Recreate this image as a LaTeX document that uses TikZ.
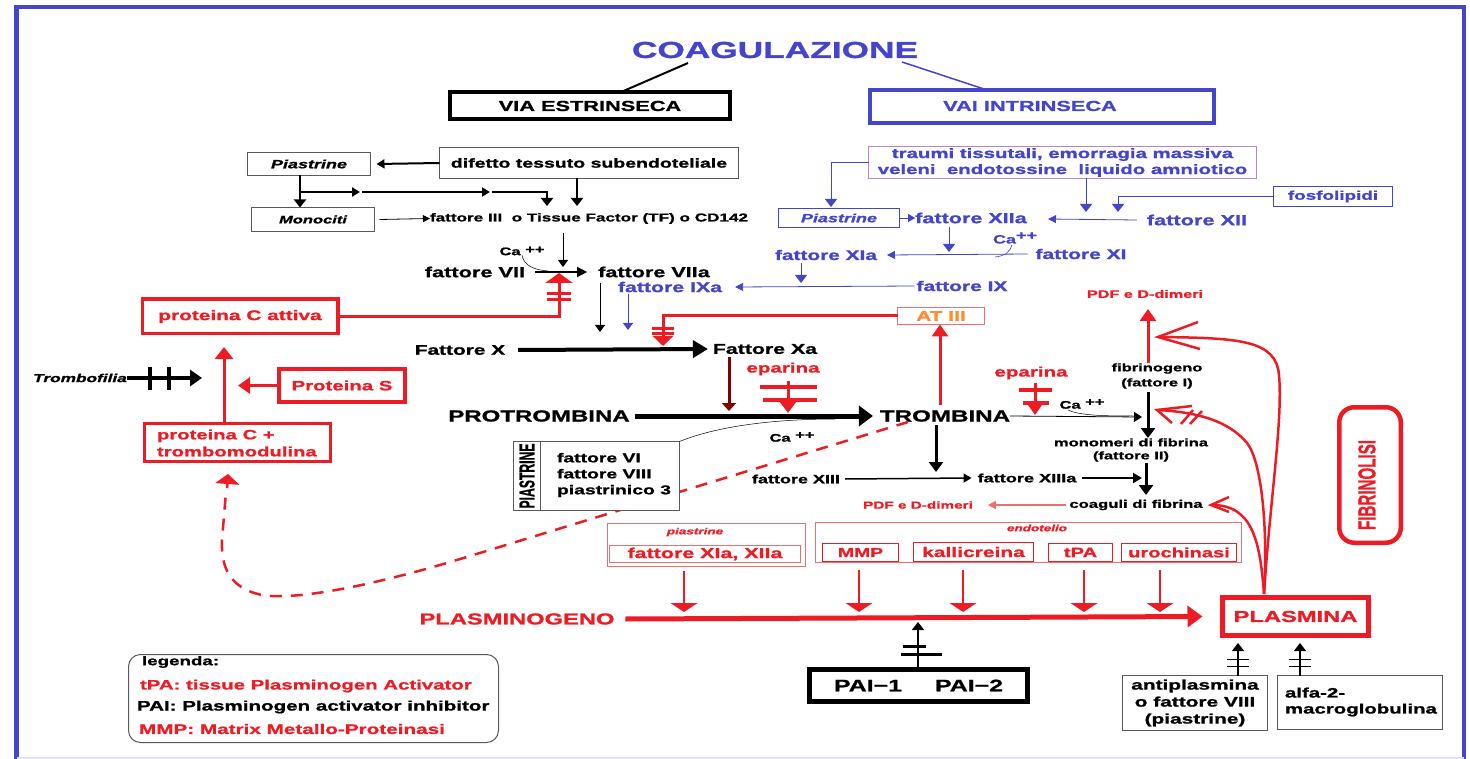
\documentclass[tikz,border=0pt]{standalone}
\usepackage{fontspec}
\setmainfont{Liberation Sans}[FakeStretch=1.5,BoldFeatures={FakeBold=1.2},BoldItalicFeatures={FakeBold=1.2}]
\usepackage{graphicx}
\usetikzlibrary{arrows.meta}
\definecolor{cblue}{RGB}{68,68,204}
\definecolor{cred}{RGB}{237,28,36}
\definecolor{clred}{RGB}{240,110,110}
\definecolor{corange}{RGB}{255,140,50}
\definecolor{cpurple}{RGB}{190,130,200}
\definecolor{cmaroon}{RGB}{130,0,0}
\definecolor{cgray}{RGB}{90,90,90}
\definecolor{clav}{RGB}{225,225,250}
\begin{document}
\begin{tikzpicture}[x=1pt,y=-1pt,
  every node/.style={inner sep=0pt,outer sep=0pt},
  fs/.style 2 args={font=\bfseries\fontsize{#1}{#2}\selectfont},
  fsi/.style 2 args={font=\bfseries\itshape\fontsize{#1}{#2}\selectfont},
  scr/.style={text=cred,font=\bfseries\itshape\fontsize{9}{9}\selectfont},
  tS/.style={-{Triangle[length=7pt,width=10pt]}},
  tM/.style={-{Triangle[length=8pt,width=12pt]}},
  tB/.style={-{Triangle[length=10pt,width=14pt]}},
  tR/.style={-{Triangle[length=12pt,width=16pt]}},
  tW/.style={-{Triangle[length=9pt,width=27pt]}},
  bar/.style={line width=3pt},
]
\useasboundingbox (0,0) rectangle (1470,759);
% frame
\draw[cblue,line width=4.5pt] (16.5,759) -- (16.5,7) -- (1464,7) -- (1464,759);
\draw[clav,line width=2pt] (16.5,757.5) -- (1464,757.5);

% title
\node[text=cblue,fs={21}{21}] (coag) at (775,50) {\scalebox{1.12}[1.1]{COAGULAZIONE}};
\node[draw,line width=4pt,minimum width=280pt,minimum height=27pt,fs={14.5}{15}] (estr) at (590,106) {VIA ESTRINSECA};
\node[draw=cblue,line width=4pt,minimum width=344pt,minimum height=33pt] (intr) at (1042,106.5) {};
\node[text=cblue,fs={14.5}{15}] (intrT) at (1030,106) {VAI INTRINSECA};
\coordinate (coagL) at (688,63);
\coordinate (coagR) at (902,62);
\draw[line width=2pt] (coagL) -- (estr.north -| 620,0);
\draw[cblue,line width=1.5pt] (coagR) -- (intr.north -| 987,0);

% extrinsic
\node[draw=cgray,line width=1pt,minimum width=123pt,minimum height=23pt,fsi={12}{12}] (piaE) at (309,164) {Piastrine};
\node[draw=cgray,line width=1pt,minimum width=299pt,minimum height=31pt,fs={13}{13}] (dif) at (589,163) {difetto tessuto subendoteliale};
\draw[line width=2pt,-{Triangle[length=8pt,width=9pt]}] (dif.west) -- ([xshift=6pt]piaE.east);
\node[draw=cgray,line width=1pt,minimum width=123pt,minimum height=24pt,fsi={11}{11}] (mono) at (313,219.5) {Monociti};
\node[fs={11.4}{12},anchor=west] (tf) at (430,218.5) {fattore III\ \ o Tissue Factor (TF) o CD142};
\draw[line width=2.5pt,tM] (piaE.south -| 300,0) -- (mono.north -| 300,0);
\coordinate (j1) at (300,192);
\coordinate (j2) at (361,192);
\coordinate (j3) at (491,192);
\coordinate (j4) at (547,192);
\coordinate (j5) at (547,206);
\draw[line width=2pt,-{Triangle[length=8pt,width=9pt]}] (j1) -- ([xshift=-1pt]j2);
\draw[line width=2pt,-{Triangle[length=8pt,width=9pt]}] ([xshift=1pt]j2) -- ([xshift=-1pt]j3);
\draw[line width=2pt,tM] ([xshift=1pt]j3) -- (j4) -- (j5);
\draw[line width=2.5pt,tM] (dif.south -| 577,0) -- (577,206);
\draw[line width=0.8pt,-{Triangle[length=7pt,width=7pt]}] ([xshift=5pt]mono.east) -- (tf.west);

\node[fs={11}{11}] (ca1) at (522,251) {Ca \raisebox{2pt}{++}};
\coordinate (tfd) at (563,267);
\draw[line width=1pt,tS] (563,233) -- (tfd);
\node[fs={14.5}{15}] (f7) at (475,272) {fattore VII};
\node[fs={14.4}{15}] (f7a) at (654,272) {fattore VIIa};
\draw[line width=0.5pt] (ca1.south) .. controls (524,266) and (535,270) .. (548,271);
\draw[line width=1.2pt,-{Triangle[length=10pt,width=10pt]}] ([xshift=10pt]f7.east) -- ([xshift=-11pt]f7a.west);

\node[draw=cred,line width=3.5pt,minimum width=195.5pt,minimum height=34.5pt,text=cred,fs={13.9}{14}] (pCa) at (240,316.5) {proteina C attiva};
\coordinate (inh1) at (559,273);
\draw[cred,line width=3pt,-{Triangle[length=10pt,width=27pt]}] (pCa.east) -- (inh1 |- pCa.east) -- (inh1);
\draw[cred,bar] (547,294) -- (571,294) (547,300) -- (571,300);

\draw[line width=1pt,tS] (600,283) -- (600,332);
\draw[cblue,line width=1pt,tS] (628,294) -- (628,330);
\node[text=cblue,fs={14.2}{15}] (f9a) at (670,287) {fattore IXa};
\node[text=cblue,fs={14}{15}] (f9) at (962,286) {fattore IX};
\draw[cblue,line width=0.8pt,-{Triangle[length=8pt,width=8pt]}] ([xshift=-2pt]f9.west) -- ([xshift=13pt]f9a.east);

\node[draw=clred,line width=1.2pt,minimum width=87pt,minimum height=17pt,text=corange,fs={13.9}{14}] (at3) at (941,316) {AT III};
\coordinate (inh2) at (663,346);
\draw[cred,line width=3pt,-{Triangle[length=10pt,width=20pt]}] (at3.west) -- (inh2 |- at3.west) -- (inh2);
\draw[cred,bar] (652,329) -- (674,329) (652,334) -- (674,334);

\node[fs={13.9}{14}] (fX) at (460,350) {Fattore X};
\node[fs={14.2}{15}] (fXa) at (765,349) {Fattore Xa};
\draw[line width=4pt,-{Triangle[length=15pt,width=17pt]}] ([xshift=13pt]fX.east) -- ([xshift=-5pt]fXa.west);
\draw[cmaroon,line width=3pt,-{Triangle[length=8pt,width=14pt]}] (729,357) -- (729,411);

\node[text=cred,fs={13.7}{14}] (ep1) at (783,369) {eparina};
\draw[cred,line width=3pt,-{Triangle[length=14pt,width=20pt]}] (788,381) -- (788,413);
\draw[cred,line width=3.5pt] (760,387) -- (817,387) (763,400) -- (817,400);

\node[fs={16}{16}] (pt) at (539,416) {PROTROMBINA};
\node[fs={16.1}{16}] (tr) at (945,416) {TROMBINA};
\draw[line width=5pt,-{Triangle[length=14pt,width=20pt]}] ([xshift=5pt]pt.east) -- ([xshift=-7pt]tr.west);

% red dashed from trombina to proteina C + trombomodulina
\coordinate (dS) at (908,422);
\draw[cred,line width=2.5pt,dash pattern=on 12pt off 9pt] (dS) -- (470,556) .. controls (360,590) and (290,600) .. (262,595) .. controls (228,588) and (221,565) .. (222,540) -- (226,492);
\draw[cred,line width=2.5pt,-{Triangle[length=10pt,width=24pt]}] (227,488) -- (228,474);

% piastrine box
\node[draw=cgray,line width=1pt,fill=white,minimum width=166pt,minimum height=69pt] (pias) at (596.5,476) {};
\draw[cgray,line width=1pt] ([xshift=27pt]pias.north west) -- ([xshift=27pt]pias.south west);
\node[rotate=90,fs={12}{12}] (piasV) at (527,476) {\resizebox{65pt}{15pt}{PIASTRINE}};
\node[fs={12.9}{16},anchor=west,align=left] (piasT) at (557,475) {fattore VI\\fattore VIII\\piastrinico 3};
\draw[line width=0.5pt] (pias.north east) .. controls (720,425) and (780,419) .. (835,419);
\node[fs={11}{11}] (ca2) at (792,437) {Ca \raisebox{3pt}{++}};

\node[draw=cred,line width=3pt,minimum width=186pt,minimum height=38pt] (pCtm) at (237.5,442.5) {};
\node[text=cred,fs={13.5}{17},align=left,anchor=west] (pCtmT) at (157,443) {proteina C +\\trombomodulina};
\draw[cred,line width=3pt,-{Triangle[length=12pt,width=18pt]}] (pCtm.north -| 224,0) -- (224,347);
\node[draw=cred,line width=4pt,minimum width=126pt,minimum height=33pt,text=cred,fs={13.6}{14}] (pS) at (342,385.5) {Proteina S};
\draw[cred,line width=3pt,tR] (pS.west) -- (238,385.5);
\node[fsi={11.5}{12}] (tfil) at (80,378) {Trombofilia};
\draw[line width=3.5pt,tR] (tfil.east) -- (202,378);
\draw[line width=4pt] (150,367) -- (150,390) (169,367) -- (169,390);

% intrinsic
\node[draw=cpurple,line width=1pt,minimum width=388pt,minimum height=32pt,text=cblue,fs={13.6}{16},align=center] (trau) at (1062.5,162.5) {traumi tissutali, emorragia massiva\\veleni\ \ endotossine\ \ liquido amniotico};
\coordinate (piaIn) at (831,207);
\draw[cblue,line width=1pt,tM] (trau.west) -- (piaIn |- trau.west) -- (piaIn);
\node[draw=cblue,line width=1pt,minimum width=121pt,minimum height=19pt,text=cblue,fsi={12}{12}] (piaI) at (839,218) {Piastrine};
\node[text=cblue,fs={14.4}{15}] (f12a) at (971,218) {fattore XIIa};
\draw[cblue,line width=0.8pt,-{Triangle[length=7pt,width=8pt]}] (piaI.east) -- (f12a.west);
\draw[cblue,line width=1pt,tM] (trau.south -| 1086,0) -- (1086,212);
\node[draw=cblue,line width=1pt,minimum width=119pt,minimum height=20pt,text=cblue,fs={12.6}{13}] (fosf) at (1333,196.5) {fosfolipidi};
\draw[cblue,line width=1pt,tM] (fosf.west) -- (1118,196.5) -- (1118,212);
\node[text=cblue,fs={14.5}{15}] (f12) at (1197,220) {fattore XII};
\draw[cblue,line width=0.8pt,-{Triangle[length=8pt,width=8pt]}] ([xshift=-10pt]f12.west) -- (1048,219);
\draw[cblue,line width=1pt,tM] (949,227) -- (949,252);
\node[text=cblue,fs={12}{12}] (ca3) at (1015,238) {Ca\raisebox{4pt}{++}};
\draw[cblue,line width=0.6pt] (1012,245) .. controls (1010,252) and (1005,256) .. (995,257);
\node[text=cblue,fs={14}{15}] (f11) at (1081,254) {fattore XI};
\node[text=cblue,fs={13.9}{15}] (f11a) at (826,255) {fattore XIa};
\draw[cblue,line width=0.8pt,-{Triangle[length=8pt,width=8pt]}] ([xshift=-8pt]f11.west) -- ([xshift=10pt]f11a.east);
\draw[cblue,line width=1pt,tM] (801,263) -- (801,283);

% right side
\node[text=cred,fs={10.8}{11}] (pdf1) at (1145,294) {PDF e D-dimeri};
\node[fs={11}{15},align=center] (fib) at (1157,376) {fibrinogeno\\(fattore I)};
\draw[cred,line width=3pt,tR] (1148,363) -- (1148,309);
\draw[line width=3pt,tB] (1148,392) -- (1148,438);
\node[text=cred,fs={13.7}{14}] (ep2) at (1031,373) {eparina};
\draw[cred,line width=3pt,tR] (1035,383) -- (1035,415);
\draw[cred,line width=3.5pt] (1019,390) -- (1052,390) (1023,403) -- (1049,403);
\draw[line width=0.8pt,-{Triangle[length=8pt,width=10pt]}] (tr.east) -- (1142,417);
\node[fs={11}{11}] (ca4) at (1082,404) {Ca \raisebox{3pt}{++}};
\draw[line width=0.5pt] (1068,410) .. controls (1080,416) and (1110,416) .. (1135,416);
\node[fs={11}{13},align=center] (mono2) at (1131,450) {monomeri di fibrina\\(fattore II)};
\draw[line width=3pt,tB] (1146,463) -- (1146,495);
\node[fs={12}{12}] (f13) at (796,479) {fattore XIII};
\node[fs={12.1}{12}] (f13a) at (1027,478) {fattore XIIIa};
\draw[line width=1.5pt,-{Triangle[length=8pt,width=9pt]}] ([xshift=5pt]f13.east) -- ([xshift=-6pt]f13a.west);
\draw[line width=2pt,-{Triangle[length=9pt,width=10pt]}] ([xshift=6pt]f13a.east) -- (1142,478);
\draw[line width=3pt,tB] (936,425) -- (936,472);
\node[fs={11.1}{11}] (coag2) at (1136,505) {coaguli di fibrina};
\node[text=cred,fs={10.2}{11}] (pdf2) at (918,505) {PDF e D-dimeri};
\draw[clred,line width=1.2pt,-{Triangle[length=8pt,width=8pt]}] ([xshift=-3pt]coag2.west) -- ([xshift=15pt]pdf2.east);
\draw[cred,line width=3pt,tR] (940,405) -- (at3.south -| 940,0);

% plasmina and fibrinolysis curves
\node[draw=cred,line width=5pt,minimum width=146pt,minimum height=38pt,text=cred,fs={15.8}{16}] (plas) at (1295.5,616.5) {PLASMINA};
\coordinate (pl0) at (1264,594);
\draw[cred,line width=2.5pt] (pl0) .. controls (1270,500) and (1283,420) .. (1279,375) .. controls (1276,340) and (1240,338) .. (1160,337);
\draw[cred,line width=2.5pt] (1198,322) -- (1158,337) -- (1200,349);
\draw[cred,line width=2.5pt] (pl0) .. controls (1268,530) and (1262,462) .. (1247,443) .. controls (1228,420) and (1195,412) .. (1158,410);
\draw[cred,line width=2.5pt] (1192,406) -- (1157,410) -- (1172,423);
\draw[cred,line width=2.5pt] (1181,424) -- (1193,410) (1190,424) -- (1202,411);
\draw[cred,line width=2.5pt] (pl0) .. controls (1260,540) and (1252,505) .. (1212,505);
\draw[cred,line width=2.5pt] (1229,497) -- (1211,505) -- (1229,512);

\node[draw=cred,line width=4.5pt,rounded corners=15pt,minimum width=61.5pt,minimum height=135.5pt] (fibro) at (1370,475) {};
\node[rotate=90,text=cred,fs={12}{12}] (fibroT) at (1367,485) {\resizebox{90pt}{17pt}{FIBRINOLISI}};

% bottom activators
\node[draw=clred,line width=1pt,minimum width=198pt,minimum height=43pt] (pbox) at (706.5,545) {};
\node[scr] (pboxT) at (695,532) {piastrine};
\node[draw=clred,line width=1pt,minimum width=191pt,minimum height=17pt,text=cred,fs={14.3}{14}] (f1112) at (705,554) {fattore XIa, XIIa};
\node[draw=clred,line width=1pt,minimum width=426pt,minimum height=40pt] (ebox) at (1028.5,542.5) {};
\node[scr] (eboxT) at (1037,528) {endotelio};
\node[draw=cred,line width=1.2pt,minimum width=76pt,minimum height=18pt,text=cred,fs={12.9}{13}] (mmp) at (860.5,552.5) {MMP};
\node[draw=cred,line width=1.2pt,minimum width=120pt,minimum height=19pt,text=cred,fs={14}{14}] (kall) at (973.5,552) {kallicreina};
\node[draw=cred,line width=1.2pt,minimum width=64pt,minimum height=18pt,text=cred,fs={13.5}{14}] (tpa) at (1080.5,552.5) {tPA};
\node[draw=cred,line width=1.2pt,minimum width=115pt,minimum height=18pt,text=cred,fs={13.4}{14}] (uro) at (1179,552.5) {urochinasi};
\draw[cred,line width=1.5pt,tW] (684,571) -- (684,612);
\draw[cred,line width=1.5pt,tW] (859,570) -- (859,612);
\draw[cred,line width=1.5pt,tW] (963,570) -- (963,612);
\draw[cred,line width=1.5pt,tW] (1084,570) -- (1084,612);
\draw[cred,line width=1.5pt,tW] (1160,570) -- (1160,612);

\node[text=cred,fs={15.8}{16}] (plg) at (517,619) {PLASMINOGENO};
\draw[cred,line width=5pt,-{Triangle[length=15pt,width=21pt]}] ([xshift=11pt]plg.east) -- ([xshift=-20pt]plas.west);

% inhibitors
\node[draw,line width=5pt,minimum width=218pt,minimum height=32pt,fs={16.6}{17}] (pai) at (918.5,685.5) {PAI−1\hspace{33pt}PAI−2};
\draw[line width=1.5pt,tM] (pai.north -| 918,0) -- (918,622);
\draw[bar] (903,646) -- (926,646) (901,654) -- (942,654);
\node[draw=cgray,line width=1.2pt,minimum width=145pt,minimum height=55pt,fs={13.9}{17},align=center] (anti) at (1195,703) {antiplasmina\\o fattore VIII\\(piastrine)};
\node[draw=cgray,line width=1.2pt,minimum width=165pt,minimum height=54pt] (alfa) at (1360,702.5) {};
\node[fs={13.6}{16},align=left,anchor=west] (alfaT) at (1285,702) {alfa-2-\\macroglobulina};
\draw[line width=1.2pt,tM] (anti.north -| 1238,0) -- (1238,643);
\draw[line width=1pt] (1227,659) -- (1249,659) (1227,666) -- (1249,666);
\draw[line width=1.2pt,tM] (alfa.north -| 1300,0) -- (1300,643);
\draw[line width=1pt] (1289,659) -- (1311,659) (1289,666) -- (1311,666);

% legend
\node[draw=cgray,line width=1pt,rounded corners=12pt,minimum width=370pt,minimum height=88pt] (leg) at (313.5,698.5) {};
\node[fs={12.5}{12},anchor=west] (legT) at (142,662) {legenda:};
\node[text=cred,fs={13.6}{14},anchor=west] (leg1) at (140,686) {tPA: tissue Plasminogen Activator};
\node[fs={13.7}{14},anchor=west] (leg2) at (137,707) {PAI: Plasminogen activator inhibitor};
\node[text=cred,fs={13.8}{14},anchor=west] (leg3) at (139,729) {MMP: Matrix Metallo-Proteinasi};
\end{tikzpicture}
\end{document}
